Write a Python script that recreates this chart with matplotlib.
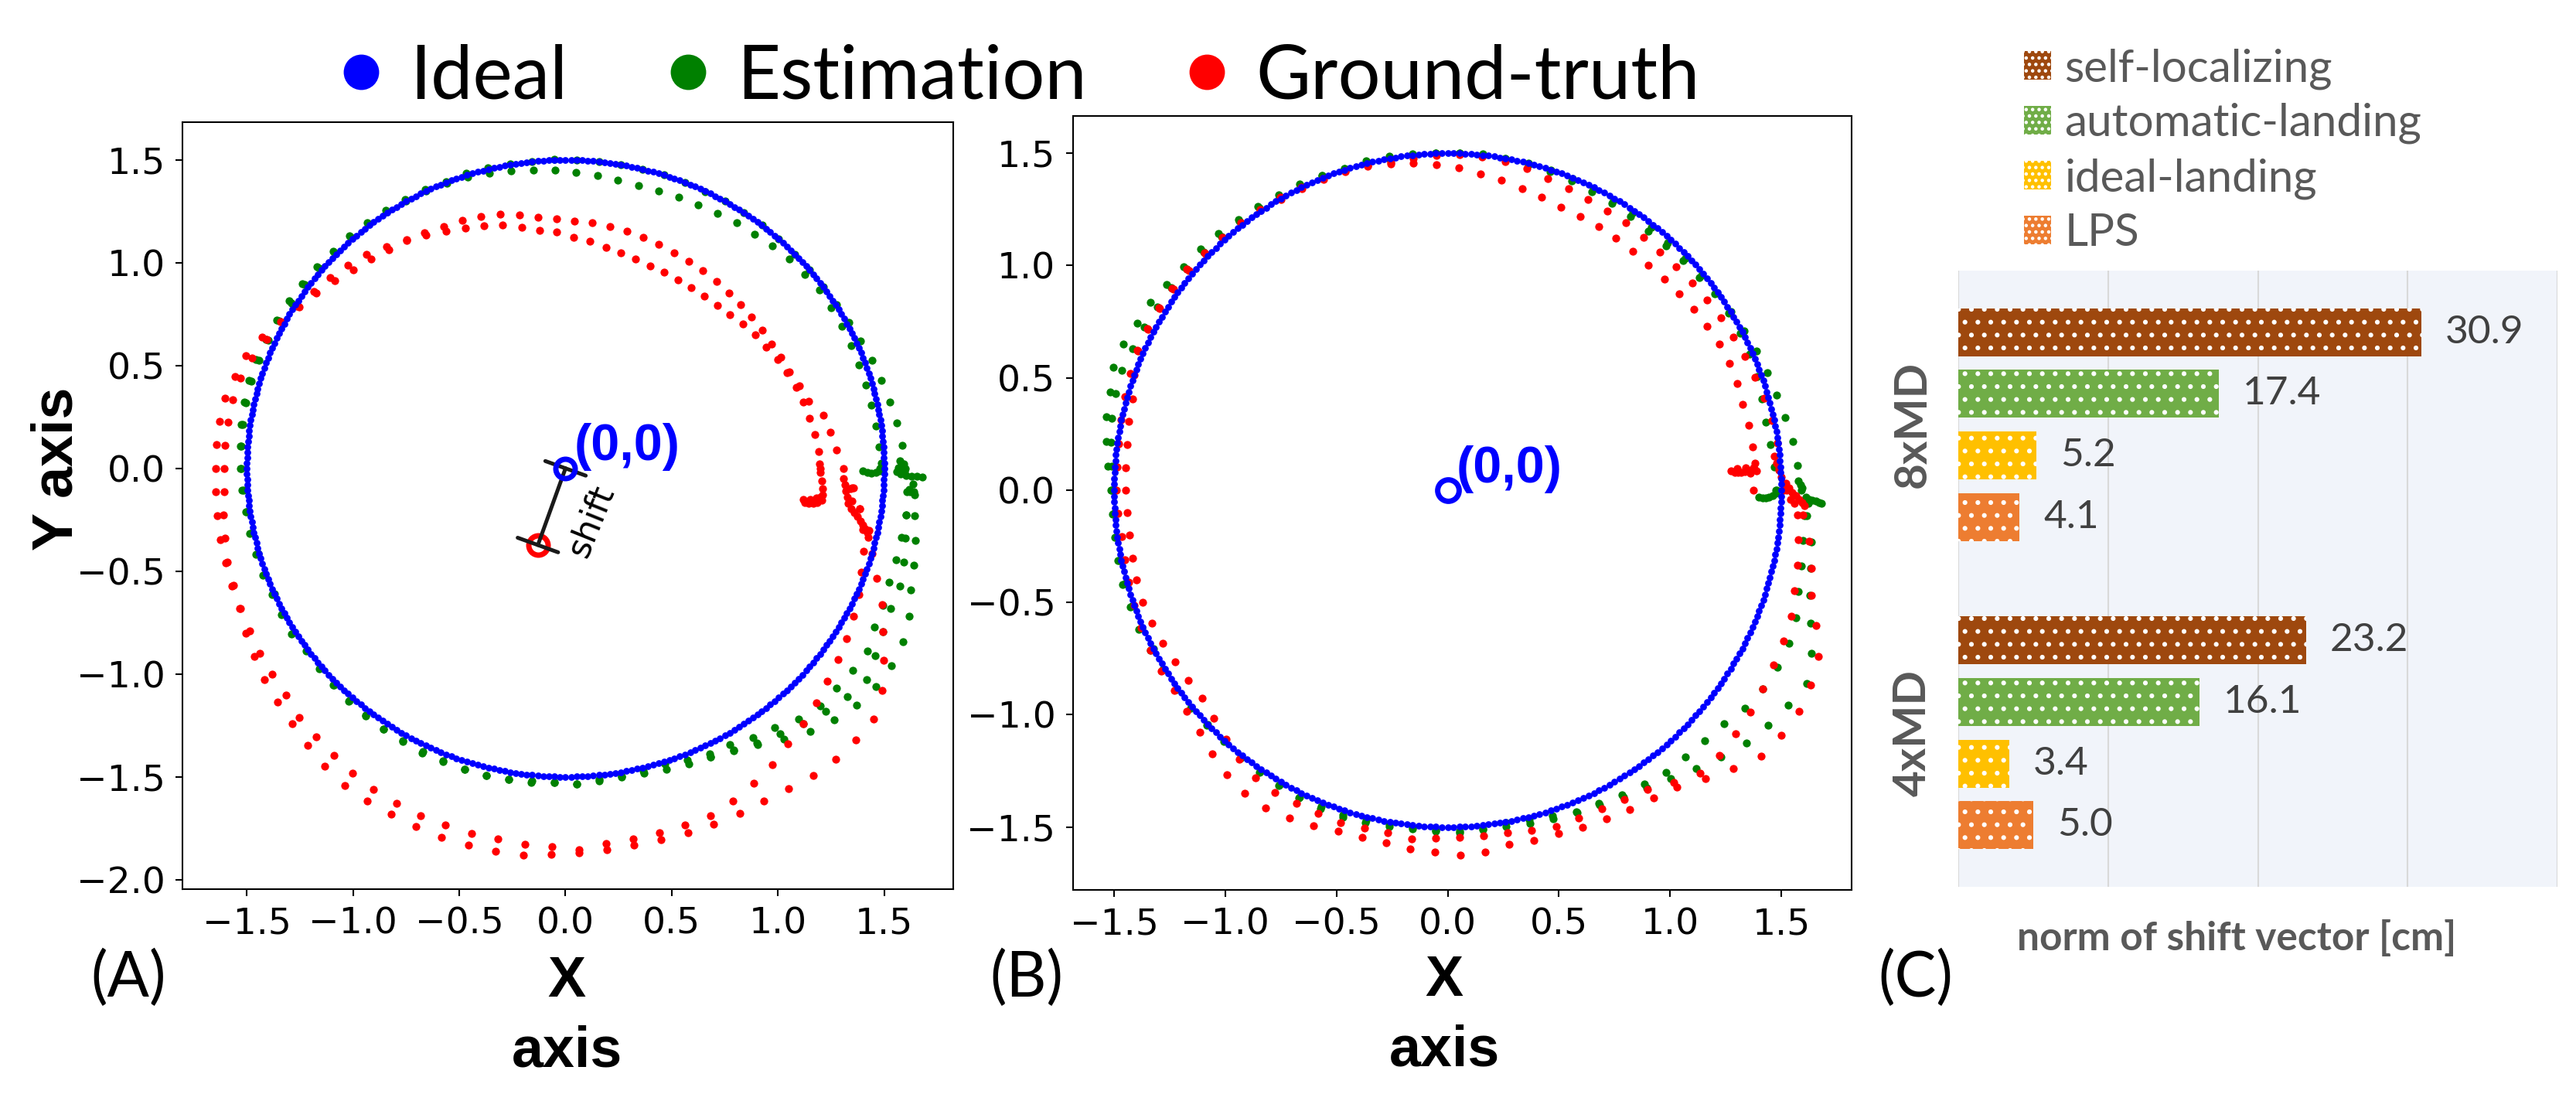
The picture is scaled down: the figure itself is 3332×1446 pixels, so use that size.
import numpy as np
import matplotlib
matplotlib.use("Agg")
import matplotlib.pyplot as plt
from matplotlib.lines import Line2D
from matplotlib.patches import Patch, Rectangle

W, H = 3332, 1446
CAL = ['Lato', 'DejaVu Sans']
ARIAL = ['Liberation Sans', 'DejaVu Sans']

# ---------------- trajectories (panels A and B) ----------------
IDEAL_RADIUS = 1.5
IDEAL_STEP_DEG = 1          # the ideal path is sampled once per degree

# measured laps: distance from origin read every 4 degrees (0, 4, ..., 356)
LAP_ANGLES_DEG = list(range(0, 360, 4))

red_a_lap1 = [1.31, 1.28, 1.26, 1.24, 1.19, 1.17, 1.155, 1.148, 1.144, 1.143,
              1.144, 1.145, 1.15, 1.155, 1.158, 1.162, 1.165, 1.175, 1.182, 1.19,
              1.195, 1.20, 1.205, 1.215, 1.23, 1.25, 1.275, 1.29, 1.30, 1.31,
              1.325, 1.34, 1.37, 1.40, 1.425, 1.445, 1.465, 1.49, 1.52, 1.565,
              1.60, 1.62, 1.64, 1.645, 1.648, 1.648, 1.65, 1.655, 1.66, 1.665,
              1.67, 1.68, 1.705, 1.725, 1.75, 1.77, 1.79, 1.815, 1.84, 1.86,
              1.87, 1.872, 1.88, 1.886, 1.89, 1.893, 1.89, 1.88, 1.87, 1.865,
              1.86, 1.86, 1.862, 1.865, 1.868, 1.87, 1.88, 1.895, 1.903, 1.90,
              1.895, 1.84, 1.765, 1.69, 1.63, 1.56, 1.50, 1.46, 1.40, 1.35]
red_a_lap2 = [1.20, 1.195, 1.185, 1.175, 1.165, 1.155, 1.14, 1.13, 1.115, 1.105,
              1.09, 1.077, 1.068, 1.062, 1.06, 1.059, 1.06, 1.062, 1.07, 1.08,
              1.093, 1.11, 1.125, 1.15, 1.165, 1.19, 1.22, 1.24, 1.26, 1.285,
              1.31, 1.335, 1.35, 1.37, 1.39, 1.42, 1.45, 1.48, 1.51, 1.54,
              1.57, 1.59, 1.60, 1.603, 1.605, 1.605, 1.61, 1.625, 1.64, 1.655,
              1.665, 1.675, 1.685, 1.695, 1.705, 1.716, 1.743, 1.755, 1.772, 1.79,
              1.805, 1.814, 1.822, 1.825, 1.832, 1.832, 1.84, 1.842, 1.855, 1.835,
              1.83, 1.826, 1.824, 1.822, 1.80, 1.77, 1.74, 1.70, 1.67, 1.64,
              1.61, 1.585, 1.56, 1.535, 1.51, 1.48, 1.46, 1.43, 1.40, 1.36]
green_a_lap1 = [1.60, 1.59, 1.575, 1.56, 1.548, 1.535, 1.52, 1.51, 1.505, 1.50,
                1.50, 1.498, 1.50, 1.502, 1.50, 1.50, 1.498, 1.50, 1.502, 1.50,
                1.50, 1.50, 1.502, 1.505, 1.50, 1.505, 1.505, 1.51, 1.505, 1.51,
                1.51, 1.515, 1.515, 1.52, 1.52, 1.525, 1.53, 1.535, 1.54, 1.545,
                1.55, 1.55, 1.545, 1.54, 1.535, 1.53, 1.525, 1.52, 1.52, 1.515,
                1.515, 1.51, 1.515, 1.52, 1.51, 1.515, 1.52, 1.525, 1.53, 1.53,
                1.535, 1.54, 1.54, 1.54, 1.538, 1.535, 1.53, 1.53, 1.535, 1.53,
                1.525, 1.53, 1.54, 1.55, 1.56, 1.58, 1.62, 1.67, 1.72, 1.76,
                1.79, 1.805, 1.81, 1.80, 1.77, 1.73, 1.705, 1.685, 1.66, 1.645]
green_a_lap2 = [1.48, 1.478, 1.475, 1.472, 1.469, 1.468, 1.47, 1.472, 1.475, 1.478,
                1.47, 1.465, 1.455, 1.447, 1.44, 1.433, 1.427, 1.421, 1.418, 1.416,
                1.425, 1.432, 1.44, 1.45, 1.46, 1.47, 1.48, 1.49, 1.495, 1.50,
                1.50, 1.505, 1.505, 1.51, 1.51, 1.515, 1.52, 1.52, 1.525, 1.53,
                1.535, 1.54, 1.54, 1.535, 1.53, 1.525, 1.52, 1.515, 1.51, 1.505,
                1.505, 1.50, 1.505, 1.51, 1.505, 1.51, 1.515, 1.52, 1.525, 1.53,
                1.53, 1.532, 1.535, 1.538, 1.54, 1.538, 1.535, 1.53, 1.535, 1.52,
                1.52, 1.515, 1.51, 1.53, 1.545, 1.55, 1.58, 1.60, 1.64, 1.665,
                1.665, 1.672, 1.675, 1.645, 1.635, 1.62, 1.617, 1.617, 1.62, 1.626]
# third, partial green strand on the lower right of panel A
green_a_part_deg = list(range(296, 360, 4))
green_a_part = [1.56, 1.585, 1.61, 1.64, 1.67, 1.70, 1.73, 1.75,
                1.72, 1.69, 1.677, 1.673, 1.656, 1.636, 1.618, 1.61]

red_b_lap1 = [1.375, 1.38, 1.383, 1.383, 1.381, 1.384, 1.385, 1.382, 1.376, 1.37,
              1.36, 1.355, 1.35, 1.35, 1.353, 1.357, 1.357, 1.36, 1.37, 1.385,
              1.40, 1.415, 1.435, 1.45, 1.465, 1.475, 1.49, 1.494, 1.495, 1.50,
              1.505, 1.505, 1.51, 1.515, 1.52, 1.53, 1.53, 1.528, 1.527, 1.525,
              1.50, 1.475, 1.465, 1.455, 1.45, 1.448, 1.445, 1.445, 1.45, 1.455,
              1.46, 1.455, 1.45, 1.445, 1.44, 1.44, 1.46, 1.49, 1.52, 1.545,
              1.555, 1.552, 1.553, 1.556, 1.552, 1.548, 1.56, 1.55, 1.547, 1.546,
              1.55, 1.56, 1.575, 1.576, 1.578, 1.59, 1.606, 1.65, 1.695, 1.70,
              1.69, 1.68, 1.67, 1.66, 1.653, 1.643, 1.62, 1.608, 1.59, 1.575]
red_b_lap2 = [1.51, 1.494, 1.497, 1.49, 1.48, 1.47, 1.463, 1.455, 1.448, 1.442,
              1.435, 1.43, 1.425, 1.43, 1.435, 1.435, 1.44, 1.449, 1.46, 1.475,
              1.485, 1.49, 1.495, 1.49, 1.485, 1.482, 1.485, 1.49, 1.493, 1.494,
              1.495, 1.506, 1.507, 1.508, 1.509, 1.52, 1.525, 1.53, 1.53, 1.528,
              1.52, 1.51, 1.50, 1.495, 1.49, 1.49, 1.485, 1.48, 1.485, 1.49,
              1.50, 1.51, 1.515, 1.52, 1.52, 1.53, 1.55, 1.58, 1.61, 1.63,
              1.635, 1.625, 1.61, 1.595, 1.593, 1.595, 1.605, 1.614, 1.625, 1.62,
              1.60, 1.608, 1.608, 1.62, 1.628, 1.64, 1.654, 1.676, 1.73, 1.786,
              1.84, 1.855, 1.861, 1.85, 1.823, 1.763, 1.70, 1.671, 1.64, 1.60]
green_b_lap1 = [1.59, 1.577, 1.566, 1.552, 1.54, 1.53, 1.52, 1.51, 1.50, 1.495,
                1.49, 1.485, 1.48, 1.485, 1.49, 1.49, 1.495, 1.495, 1.50, 1.50,
                1.50, 1.50, 1.50, 1.50, 1.498, 1.495, 1.50, 1.505, 1.51, 1.515,
                1.52, 1.525, 1.53, 1.54, 1.545, 1.55, 1.56, 1.575, 1.58, 1.595,
                1.60, 1.58, 1.57, 1.55, 1.53, 1.515, 1.51, 1.51, 1.515, 1.52,
                1.52, 1.52, 1.515, 1.51, 1.51, 1.505, 1.505, 1.50, 1.51, 1.515,
                1.52, 1.525, 1.53, 1.53, 1.525, 1.52, 1.515, 1.52, 1.525, 1.52,
                1.52, 1.53, 1.54, 1.55, 1.56, 1.58, 1.60, 1.63, 1.67, 1.71,
                1.754, 1.78, 1.805, 1.83, 1.79, 1.735, 1.695, 1.668, 1.65, 1.62]
green_b_lap2 = [1.475, 1.471, 1.465, 1.461, 1.47, 1.48, 1.485, 1.49, 1.49, 1.485,
                1.475, 1.47, 1.465, 1.465, 1.47, 1.475, 1.48, 1.485, 1.49, 1.495,
                1.50, 1.505, 1.50, 1.50, 1.505, 1.51, 1.51, 1.505, 1.51, 1.51,
                1.51, 1.515, 1.52, 1.52, 1.525, 1.53, 1.535, 1.54, 1.545, 1.55,
                1.56, 1.555, 1.545, 1.53, 1.515, 1.51, 1.505, 1.505, 1.51, 1.51,
                1.51, 1.505, 1.50, 1.505, 1.51, 1.51, 1.50, 1.505, 1.51, 1.51,
                1.515, 1.52, 1.52, 1.52, 1.515, 1.51, 1.51, 1.515, 1.52, 1.515,
                1.505, 1.51, 1.525, 1.546, 1.55, 1.568, 1.58, 1.593, 1.598, 1.605,
                1.62, 1.65, 1.67, 1.68, 1.678, 1.665, 1.64, 1.624, 1.612, 1.607]

# take-off / landing clusters (x, y)
red_a_hover_x = [1.195, 1.20, 1.205, 1.21, 1.21, 1.205, 1.185, 1.165, 1.145, 1.125, 1.12, 1.15, 1.18, 1.20]
red_a_hover_y = [0.02, -0.02, -0.06, -0.10, -0.13, -0.155, -0.165, -0.17, -0.17, -0.165, -0.15, -0.15, -0.145, -0.14]
red_a_wiggle_x = [1.31, 1.315, 1.32, 1.325, 1.33, 1.345, 1.36, 1.375, 1.39, 1.40, 1.41, 1.42, 1.425, 1.34, 1.35]
red_a_wiggle_y = [-0.05, -0.08, -0.11, -0.14, -0.17, -0.195, -0.215, -0.235, -0.255, -0.275, -0.295, -0.315, -0.335, -0.10, -0.16]
green_a_hover_x = [1.573, 1.591, 1.567, 1.56, 1.579, 1.604, 1.628, 1.653, 1.678, 1.597, 1.635, 1.616, 1.644,
                   1.40, 1.42, 1.44, 1.46, 1.48, 1.485, 1.487]
green_a_hover_y = [0.035, 0.023, 0.004, -0.015, -0.028, -0.034, -0.038, -0.04, -0.043, -0.013, -0.078, -0.103, -0.128,
                   -0.012, -0.02, -0.022, -0.02, -0.012, 0.005, 0.025]
red_b_hover_x = [1.275, 1.29, 1.305, 1.32, 1.335, 1.35, 1.365, 1.375, 1.38, 1.39, 1.30, 1.34, 1.36,
                 1.47, 1.48, 1.49, 1.50, 1.52, 1.535, 1.55, 1.565, 1.58, 1.595, 1.605, 1.54, 1.525, 1.56]
red_b_hover_y = [0.085, 0.08, 0.078, 0.08, 0.083, 0.085, 0.09, 0.10, 0.12, 0.085, 0.095, 0.10, 0.075,
                 0.15, 0.12, 0.09, 0.06, 0.03, 0.01, -0.01, -0.025, -0.04, -0.055, -0.07, -0.04, 0.0, -0.06]
green_b_hover_x = [1.40, 1.415, 1.43, 1.445, 1.46, 1.475, 1.48,
                   1.575, 1.585, 1.595, 1.61, 1.625, 1.64, 1.655, 1.67, 1.68, 1.62, 1.605]
green_b_hover_y = [-0.03, -0.035, -0.033, -0.03, -0.025, -0.015, 0.0,
                   0.04, 0.025, 0.01, -0.03, -0.04, -0.045, -0.05, -0.055, -0.06, -0.06, -0.045]

# centre of the ground-truth circle in panel A (shift)
gt_center_a = (-0.13, -0.373)

# ---------------- bar chart (panel C) ----------------
groups = ['8xMD', '4xMD']
series_names = ['self-localizing', 'automatic-landing', 'ideal-landing', 'LPS']
self_localizing = [30.9, 23.2]
automatic_landing = [17.4, 16.1]
ideal_landing = [5.2, 3.4]
lps = [4.1, 5.0]
bar_colors = ['#9E480E', '#70AD47', '#FFC000', '#ED7D31']

DOT_MS = 7.4     # measured trajectories
IDEAL_MS = 6.3

plt.rcParams['hatch.linewidth'] = 2.0


def polar_xy(angles_deg, radii):
    t = np.deg2rad(np.asarray(angles_deg, dtype=float))
    r = np.asarray(radii, dtype=float)
    return r * np.cos(t), r * np.sin(t)


def px_box(left, top, right, bottom):
    return [left / W, 1 - bottom / H, (right - left) / W, (bottom - top) / H]


def dots(ax, x, y, color, ms=DOT_MS):
    ax.plot(x, y, 'o', color=color, ms=ms, mew=0, ls='none')


def style_axes(ax):
    for s in ax.spines.values():
        s.set_linewidth(1.5)
    ax.tick_params(labelsize=34, length=6.5, width=1.5, pad=9.5)
    ax.set_xticks([-1.5, -1.0, -0.5, 0.0, 0.5, 1.0, 1.5])


fig = plt.figure(figsize=(W / 100, H / 100), dpi=100)

# ---------------- panel A ----------------
axA = fig.add_axes(px_box(236, 158, 1233, 1150))
ideal_deg = np.arange(0, 360, IDEAL_STEP_DEG)
ix, iy = polar_xy(ideal_deg, np.full(ideal_deg.shape, IDEAL_RADIUS))

for lap in (green_a_lap1, green_a_lap2):
    dots(axA, *polar_xy(LAP_ANGLES_DEG, lap), 'green')
dots(axA, *polar_xy(green_a_part_deg, green_a_part), 'green')
dots(axA, green_a_hover_x, green_a_hover_y, 'green')
for lap in (red_a_lap1, red_a_lap2):
    dots(axA, *polar_xy(LAP_ANGLES_DEG, lap), 'red')
dots(axA, red_a_hover_x, red_a_hover_y, 'red')
dots(axA, red_a_wiggle_x, red_a_wiggle_y, 'red')
dots(axA, ix, iy, 'blue', IDEAL_MS)

axA.annotate('', xy=(0, 0), xytext=gt_center_a,
             arrowprops=dict(arrowstyle='|-|, widthA=1.0, widthB=1.0', lw=3.6,
                             color='#1a1a1a', shrinkA=0, shrinkB=0, mutation_scale=20),
             zorder=5)
axA.plot([0], [0], 'o', ms=18, mfc='none', mec='blue', mew=5, zorder=6)
axA.plot([gt_center_a[0]], [gt_center_a[1]], 'o', ms=18, mfc='none', mec='red', mew=5, zorder=4)
axA.text(0.12, -0.254, 'shift', rotation=68, rotation_mode='anchor', ha='center', va='center',
         fontsize=32, color='black')
axA.annotate('(0,0)', xy=(0, 0), xytext=(8, 8), textcoords='offset points', ha='left', va='baseline',
             fontsize=48, fontweight='bold', color='blue', family=ARIAL)

style_axes(axA)
axA.set_yticks([-2.0, -1.5, -1.0, -0.5, 0.0, 0.5, 1.0, 1.5])
axA.set_xlim(-1.803, 1.825)
axA.set_ylim(-2.047, 1.684)
axA.set_xlabel('X\naxis', fontsize=53, fontweight='bold', family=ARIAL, linespacing=1.4)
axA.xaxis.set_label_coords(0.4985, -0.086)
axA.set_ylabel('Y axis', fontsize=53, fontweight='bold', family=ARIAL)
axA.yaxis.set_label_coords(-0.128, 0.548)

# ---------------- panel B ----------------
axB = fig.add_axes(px_box(1387.5, 150, 2395, 1151))
for lap in (green_b_lap1, green_b_lap2):
    dots(axB, *polar_xy(LAP_ANGLES_DEG, lap), 'green')
dots(axB, green_b_hover_x, green_b_hover_y, 'green')
for lap in (red_b_lap1, red_b_lap2):
    dots(axB, *polar_xy(LAP_ANGLES_DEG, lap), 'red')
dots(axB, red_b_hover_x, red_b_hover_y, 'red')
dots(axB, ix, iy, 'blue', IDEAL_MS)
axB.plot([0], [0], 'o', ms=20, mfc='none', mec='blue', mew=5, zorder=6)
axB.annotate('(0,0)', xy=(0, 0), xytext=(8, 7), textcoords='offset points', ha='left', va='baseline',
             fontsize=48, fontweight='bold', color='blue', family=ARIAL)
style_axes(axB)
axB.set_yticks([-1.5, -1.0, -0.5, 0.0, 0.5, 1.0, 1.5])
axB.set_xlim(-1.686, 1.816)
axB.set_ylim(-1.78, 1.666)
axB.set_xlabel('X\naxis', fontsize=53, fontweight='bold', family=ARIAL, linespacing=1.4)
axB.xaxis.set_label_coords(0.477, -0.083)

# ---------------- top legend ----------------
handles = [Line2D([], [], marker='o', ls='none', color=c, ms=33, mew=0) for c in ('blue', 'green', 'red')]
fig.legend(handles, ['Ideal', 'Estimation', 'Ground-truth'], loc='center',
           bbox_to_anchor=(1321 / W, 1 - 100 / H), ncol=3, frameon=False,
           prop={'family': CAL, 'size': 70}, handlelength=0.5, handletextpad=0.4,
           columnspacing=1.35, borderpad=0, borderaxespad=0)

# ---------------- panel C ----------------
axC = fig.add_axes(px_box(2533, 350, 3308, 1147))
axC.add_patch(Rectangle((0, 0), 1, 1, transform=axC.transAxes, facecolor='#f1f4fa',
                        lw=0, zorder=0))
values = [self_localizing, automatic_landing, ideal_landing, lps]
offsets = [-0.3, -0.1, 0.1, 0.3]
pos = np.arange(len(groups))
for vals, name, col, off in zip(values, series_names, bar_colors, offsets):
    axC.barh(pos + off, vals, height=0.156, color=col, edgecolor='white', lw=0,
             hatch='.', label=name, zorder=3)
    for p, v in zip(pos + off, vals):
        axC.text(v + 1.6, p, f'{v:.1f}', ha='left', va='center', fontsize=37,
                 color='#404040', family=CAL, zorder=4)
axC.set_xlim(0, 40)
axC.set_ylim(1.5, -0.5)
axC.set_xticks([0, 10, 20, 30, 40])
axC.set_xticklabels([])
axC.grid(axis='x', color='#d9d9d9', lw=1.5, zorder=1)
axC.set_axisbelow(True)
axC.tick_params(length=0)
axC.set_yticks(pos)
axC.set_yticklabels(groups, rotation=90, va='center', fontsize=42, fontweight='bold',
                    color='#595959', family=CAL)
axC.tick_params(axis='y', pad=23)
for s in axC.spines.values():
    s.set_visible(False)
axC.set_xlabel('norm of shift vector [cm]', fontsize=37, fontweight='bold', color='#595959', family=CAL)
axC.xaxis.set_label_coords(0.465, -0.054)

leg_handles = [Patch(facecolor=c, edgecolor='white', lw=0, hatch='..') for c in bar_colors]
fig.legend(leg_handles, series_names, loc='upper left', bbox_to_anchor=(2618 / W, 1 - 62 / H),
           frameon=False, prop={'family': CAL, 'size': 42}, labelcolor='#595959',
           handlelength=0.6, handleheight=0.6, handletextpad=0.3, labelspacing=0.3,
           borderpad=0, borderaxespad=0)

# panel letters
for txt, xc in (('(A)', 166.5), ('(B)', 1327.5), ('(C)', 2477.5)):
    fig.text(xc / W, 1 - 1265 / H, txt, ha='center', va='center', fontsize=58, family=CAL)

fig.savefig('out.png', dpi=100)
